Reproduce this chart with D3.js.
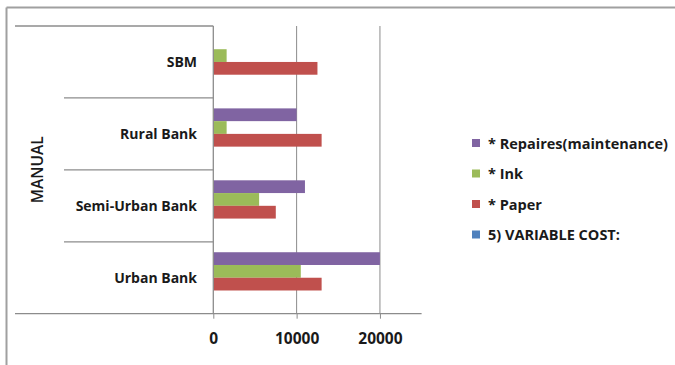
<!DOCTYPE html>
<html>
<head>
<meta charset="utf-8">
<script src="https://cdn.jsdelivr.net/npm/d3@7"></script>
<style>
  html, body { margin: 0; padding: 0; background: #fff; }
  svg { display: block; }
  text { font-family: "Open Sans", Lato, sans-serif; fill: #1a1a1a; }
</style>
</head>
<body>
<div id="chart"></div>
<script>
// Bank categories, top to bottom
const categories = ["SBM", "Rural Bank", "Semi-Urban Bank", "Urban Bank"];
const groupLabel = "MANUAL";

// Series, in legend order (top bar of each cluster first)
const seriesNames = ["* Repaires(maintenance)", "* Ink", "* Paper", "5) VARIABLE COST:"];
const seriesColors = ["#8064A2", "#9BBB59", "#C0504D", "#4F81BD"];

// Values per category, same order as categories
const repairs = [0, 10000, 11000, 20000];
const ink = [1600, 1600, 5500, 10500];
const paper = [12500, 13000, 7500, 13000];
const variableCost = [0, 0, 0, 0];

const tickValues = [0, 10000, 20000];

const W = 675, H = 365;
const svg = d3.select("#chart").append("svg").attr("width", W).attr("height", H);

// outer frame (top and left edges)
svg.append("line").attr("x1", 6.5).attr("x2", W).attr("y1", 7.5).attr("y2", 7.5)
  .attr("stroke", "#a0a0a0").attr("stroke-width", 2);
svg.append("line").attr("x1", 6.5).attr("x2", 6.5).attr("y1", 7.5).attr("y2", H)
  .attr("stroke", "#a0a0a0").attr("stroke-width", 2);

const plot = { left: 213.3, right: 421.6, top: 26, bottom: 313.7 };

const x = d3.scaleLinear().domain([0, 25000]).range([plot.left, plot.right]);
const y = d3.scaleBand().domain(categories).range([plot.top, plot.bottom]);
const inner = d3.scaleBand().domain(seriesNames)
  .range([0, y.bandwidth()]).paddingInner(0).paddingOuter(0.82);

const grid = "#8c8c8c";

// vertical gridlines
svg.append("g").selectAll("line").data(tickValues.filter(d => d > 0)).join("line")
  .attr("x1", d => x(d)).attr("x2", d => x(d))
  .attr("y1", plot.top).attr("y2", plot.bottom)
  .attr("stroke", grid).attr("stroke-width", 1);

// bars
const seriesData = [repairs, ink, paper, variableCost];
seriesData.forEach((vals, si) => {
  svg.append("g").selectAll("rect").data(categories).join("rect")
    .attr("x", x(0))
    .attr("y", c => y(c) + inner(seriesNames[si]))
    .attr("width", (c, i) => x(vals[i]) - x(0))
    .attr("height", inner.bandwidth())
    .attr("fill", seriesColors[si]);
});

// value axis
const xAxis = d3.axisBottom(x).tickValues(tickValues).tickSize(5).tickPadding(14)
  .tickFormat(d3.format("d"));
const ax = svg.append("g").attr("transform", `translate(0,${plot.bottom})`).call(xAxis);
ax.select(".domain").remove();
ax.selectAll(".tick line").attr("stroke", grid);
ax.selectAll(".tick text").attr("font-size", 15.5).attr("font-weight", "bold")
  .attr("font-family", "'Open Sans', sans-serif").style("fill", "#1a1a1a");
svg.append("line").attr("x1", 15).attr("x2", plot.right)
  .attr("y1", plot.bottom).attr("y2", plot.bottom).attr("stroke", grid).attr("stroke-width", 1.3);

// category axis line at zero
svg.append("line").attr("x1", x(0)).attr("x2", x(0))
  .attr("y1", plot.top).attr("y2", plot.bottom).attr("stroke", grid).attr("stroke-width", 1.3);
// top boundary of the label area
svg.append("line").attr("x1", 15).attr("x2", x(0))
  .attr("y1", plot.top).attr("y2", plot.top).attr("stroke", grid).attr("stroke-width", 1.3);
// separators between categories
svg.append("g").selectAll("line").data(categories.slice(1)).join("line")
  .attr("x1", 64).attr("x2", x(0))
  .attr("y1", c => y(c)).attr("y2", c => y(c))
  .attr("stroke", grid).attr("stroke-width", 1.3);

// category labels
svg.append("g").selectAll("text").data(categories).join("text")
  .attr("x", 197).attr("y", c => y(c) + y.bandwidth() / 2)
  .attr("text-anchor", "end").attr("dominant-baseline", "central")
  .attr("font-size", 14).attr("font-weight", "bold")
  .text(c => c);

// outer group label
svg.append("text")
  .attr("transform", `translate(37,${(plot.top + plot.bottom) / 2}) rotate(-90)`)
  .attr("text-anchor", "middle").attr("dominant-baseline", "central")
  .attr("font-size", 15.5).attr("font-weight", 600)
  .text(groupLabel);

// legend
const legend = svg.append("g").selectAll("g").data(seriesNames).join("g")
  .attr("transform", (d, i) => `translate(472,${143 + i * 30.5})`);
legend.append("rect").attr("x", 0).attr("y", -4).attr("width", 8).attr("height", 8)
  .attr("fill", (d, i) => seriesColors[i]);
legend.append("text").attr("x", 16).attr("y", 0).attr("dominant-baseline", "central")
  .attr("font-size", 14.5).attr("font-weight", "bold").text(d => d);
</script>
</body>
</html>
